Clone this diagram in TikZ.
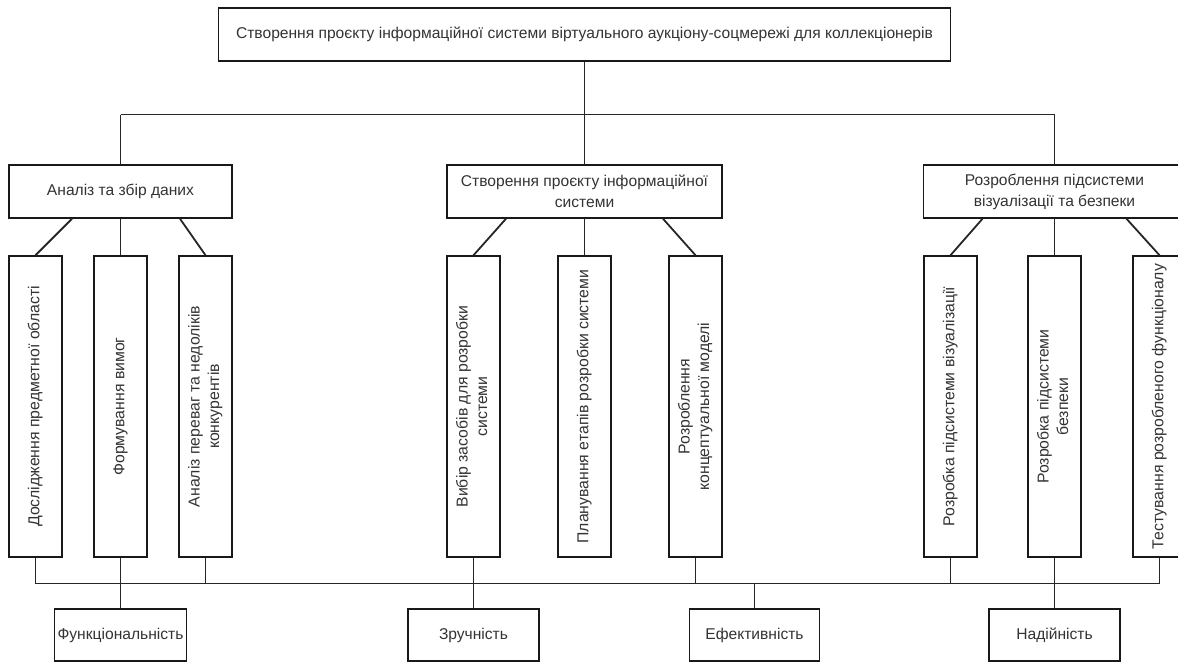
\documentclass[tikz,border=0pt]{standalone}
\usepackage{fontspec}
\setmainfont{Liberation Sans}
\usetikzlibrary{calc}
\newcommand{\vtext}[1]{\rotatebox{90}{\begin{tabular}{@{}c@{}}#1\end{tabular}}}
\begin{document}
\begin{tikzpicture}[x=1pt,y=-1pt,
  box/.style={draw=black!90, line width=1.5pt, inner sep=0pt, align=center,
    text=black!80, font=\fontsize{15.6}{21}\selectfont},
  vbox/.style={box, minimum width=53pt, minimum height=301pt,
    font=\fontsize{15.8}{19.5}\selectfont},
  hbox/.style={box, minimum height=53pt},
  link/.style={draw=black!85, line width=1.8pt}]
\useasboundingbox (0,0) rectangle (1178,662);
\clip (0,0) rectangle (1178,662);

% root
\node[hbox, minimum width=732pt] (root) at (584.5,34.5)
  {Створення проєкту інформаційної системи віртуального аукціону-соцмережі для коллекціонерів};

% second level
\node[hbox, minimum width=223pt] (A) at (120.5,191.5) {Аналіз та збір даних};
\node[hbox, minimum width=275pt] (B) at (584.5,191.5) {Створення проєкту інформаційної\\системи};
\node[hbox, minimum width=262pt] (C) at (1054.5,191.5) {Розроблення підсистеми\\візуалізації та безпеки};

% third level (vertical boxes)
\node[vbox] (a1) at (35.5,406.5) {\vtext{Дослідження предметної області}};
\node[vbox] (a2) at (120.5,406.5) {\vtext{Формування вимог}};
\node[vbox] (a3) at (205.5,406.5) {\vtext{Аналіз переваг та недоліків\\конкурентів}};
\node[vbox] (b1) at (473.5,406.5) {\vtext{Вибір засобів для розробки\\системи}};
\node[vbox] (b2) at (584.5,406.5) {\vtext{Планування етапів розробки системи}};
\node[vbox] (b3) at (695.5,406.5) {\vtext{Розроблення\\концептуальної моделі}};
\node[vbox] (c1) at (950.5,406.5) {\vtext{Розробка підсистеми візуалізації}};
\node[vbox] (c2) at (1054.5,406.5) {\vtext{Розробка підсистеми\\безпеки}};
\node[vbox] (c3) at (1159.5,406.5) {\vtext{Тестування розробленого функціоналу}};

% quality criteria
\node[hbox, minimum width=132pt, minimum height=52pt] (f1) at (120.5,635) {Функціональність};
\node[hbox, minimum width=131pt, minimum height=52pt] (f2) at (473.5,635) {Зручність};
\node[hbox, minimum width=130pt, minimum height=52pt] (f3) at (754.5,635) {Ефективність};
\node[hbox, minimum width=131pt, minimum height=52pt] (f4) at (1054.5,635) {Надійність};

\coordinate (topbus) at (0,114.5);
\coordinate (lowbus) at (0,583.5);

% root to second level
\draw[link] (root.south) -- (root.south |- topbus);
\draw[link] (A.north |- topbus) -- (C.north |- topbus);
\draw[link] (A.north |- topbus) -- (A.north);
\draw[link] (B.north |- topbus) -- (B.north);
\draw[link] (C.north |- topbus) -- (C.north);

% second level to third level
\draw[link] ($(A.south)+(-48.5,0)$) -- (a1.north);
\draw[link] (A.south) -- (a2.north);
\draw[link] ($(A.south)+(59.5,0)$) -- (a3.north);
\draw[link] ($(B.south)+(-78.5,0)$) -- (b1.north);
\draw[link] (B.south) -- (b2.north);
\draw[link] ($(B.south)+(78.5,0)$) -- (b3.north);
\draw[link] ($(C.south)+(-72,0)$) -- (c1.north);
\draw[link] (C.south) -- (c2.north);
\draw[link] ($(C.south)+(72,0)$) -- (c3.north);

% third level to the lower bus and the criteria
\draw[link] (a1.south |- lowbus) -- (c3.south |- lowbus);
\draw[link] (a1.south) -- (a1.south |- lowbus);
\draw[link] (a3.south) -- (a3.south |- lowbus);
\draw[link] (b3.south) -- (b3.south |- lowbus);
\draw[link] (c1.south) -- (c1.south |- lowbus);
\draw[link] (c3.south) -- (c3.south |- lowbus);
\draw[link] (a2.south) -- (f1.north);
\draw[link] (b1.south) -- (f2.north);
\draw[link] (f3.north |- lowbus) -- (f3.north);
\draw[link] (c2.south) -- (f4.north);
\end{tikzpicture}
\end{document}
